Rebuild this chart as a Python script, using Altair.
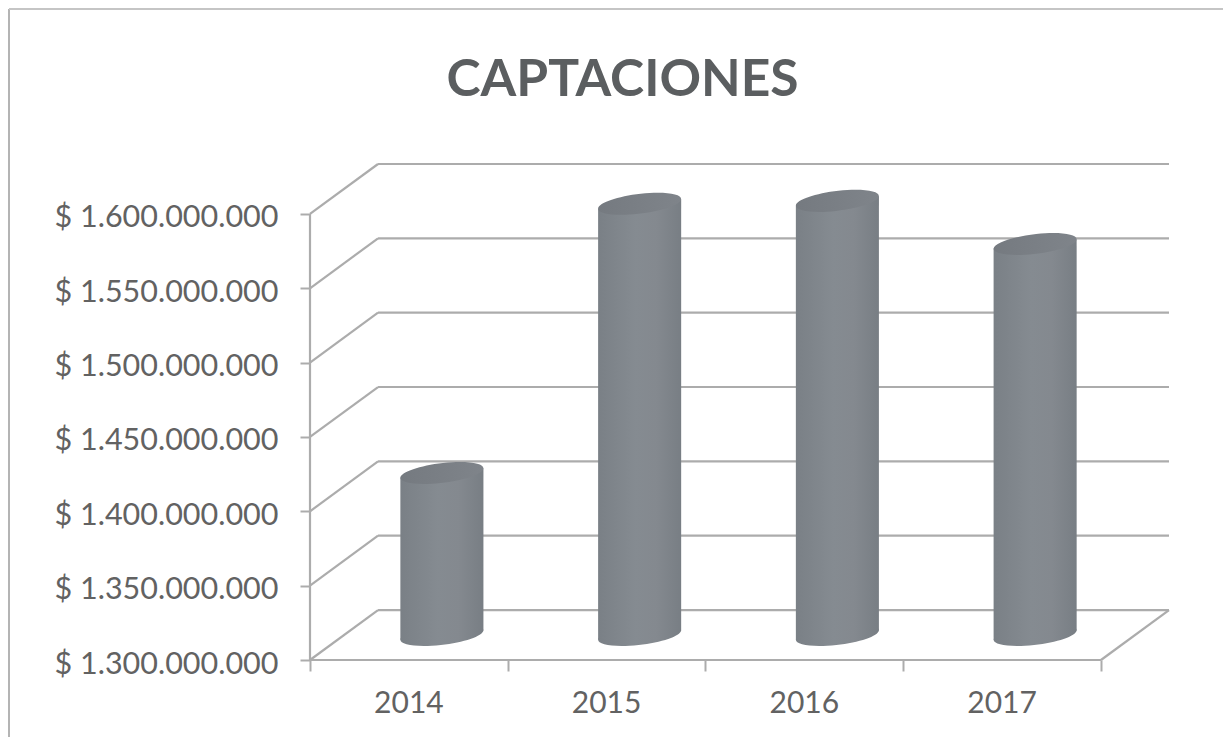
import altair as alt
import pandas as pd

# ---- values
years = ["2014", "2015", "2016", "2017"]
captaciones = [1409000000, 1590000000, 1592000000, 1563000000]
y_ticks = [1300000000, 1350000000, 1400000000, 1450000000, 1500000000, 1550000000, 1600000000]
x_ticks = [0, 1, 2, 3, 4]

# ---- fake-3D projection, expressed in scale units
DEPTH_X = 0.344          # back wall shift along x (categories)
DEPTH_Y = 33600000       # back wall shift along y (value units)
MID_X = 0.167
MID_Y = 16800000
HALF_W = 0.21            # cylinder half width (categories)
TILT = 3100000           # rise of the cylinder ends from centre to side (value units)
Y_MIN, Y_MAX = 1300000000, 1633600000
X_MIN, X_MAX = 0, 4.344

TEXT = "#626262"
GRID = "#acacac"
ELLIPSE = "M-1,0.11 A1,0.235 -7 1 1 1,-0.11 A1,0.235 -7 1 1 -1,0.11 Z"

xs = alt.Scale(domain=[X_MIN, X_MAX], nice=False, zero=False, padding=0)
ys = alt.Scale(domain=[Y_MIN, Y_MAX], nice=False, zero=False, padding=0)

x_axis = alt.Axis(values=x_ticks, labels=False, domain=False, grid=False,
                  tickColor=GRID, tickWidth=2, tickSize=11)
y_axis = alt.Axis(values=y_ticks, domain=False, grid=False, tickColor=GRID, tickWidth=2,
                  tickSize=10, labelFont="Lato", labelFontSize=30.5, labelColor=TEXT,
                  labelPadding=22, labelLimit=400, labelOffset=4,
                  labelExpr="'$ ' + replace(format(datum.value, ','), /,/g, '.')")

def X(f):
    return alt.X(f, type="quantitative", scale=xs, title=None, axis=x_axis)

def Y(f):
    return alt.Y(f, type="quantitative", scale=ys, title=None, axis=y_axis)

body_gradient = alt.Gradient(
    gradient="linear", x1=0, x2=1, y1=0, y2=0,
    stops=[
        alt.GradientStop(offset=0, color="#7a8086"),
        alt.GradientStop(offset=0.45, color="#858b91"),
        alt.GradientStop(offset=0.7, color="#84898f"),
        alt.GradientStop(offset=1, color="#787e84"),
    ],
)
top_gradient = alt.Gradient(
    gradient="linear", x1=0, x2=1, y1=0, y2=0,
    stops=[
        alt.GradientStop(offset=0, color="#757a80"),
        alt.GradientStop(offset=1, color="#7f848a"),
    ],
)

cyl = pd.DataFrame({
    "year": years,
    "value": captaciones,
    "cx": [i + 0.5 + MID_X for i in range(len(years))],
    "label_x": [i + 0.5 for i in range(len(years))],
})
cyl["top"] = cyl["value"] + MID_Y
cyl["base"] = Y_MIN + MID_Y
cyl["floor"] = Y_MIN

# each cylinder body: left and right edge, ends tilted like the ellipses
body_left = cyl.assign(bx=cyl["cx"] - HALF_W, ytop=cyl["top"] - TILT, ybase=cyl["base"] - TILT)
body_right = cyl.assign(bx=cyl["cx"] + HALF_W, ytop=cyl["top"] + TILT, ybase=cyl["base"] + TILT)
body = pd.concat([body_left, body_right], ignore_index=True)

grid = pd.DataFrame({"v": y_ticks})
grid["x0"] = 0.0
grid["x1"] = DEPTH_X
grid["x2"] = 4 + DEPTH_X
grid["vb"] = grid["v"] + DEPTH_Y

rule = dict(color=GRID, strokeWidth=2.2)
back = alt.Chart(grid).mark_rule(**rule).encode(x=X("x1"), x2="x2", y=Y("vb"), y2="vb")
side = alt.Chart(grid).mark_rule(**rule).encode(x=X("x0"), x2="x1", y=Y("v"), y2="vb")
spine = alt.Chart(pd.DataFrame({"x": [0], "a": [y_ticks[0]], "b": [y_ticks[-1]]})).mark_rule(**rule).encode(
    x=X("x"), y=Y("a"), y2="b")
floor_df = pd.DataFrame({"a": [0, 4], "b": [4, 4 + DEPTH_X], "c": [Y_MIN, Y_MIN], "d": [Y_MIN, Y_MIN + DEPTH_Y]})
floor = alt.Chart(floor_df).mark_rule(**rule).encode(x=X("a"), x2="b", y=Y("c"), y2="d")

bodies = alt.Chart(body).mark_area(color=body_gradient, orient="vertical", opacity=1).encode(
    x=X("bx"), y=Y("ytop"), y2="ybase", detail="year:N")
bottoms = alt.Chart(cyl).mark_point(shape=ELLIPSE, size=6889, filled=True, fill=body_gradient, opacity=1).encode(
    x=X("cx"), y=Y("base"))
tops = alt.Chart(cyl).mark_point(shape=ELLIPSE, size=6889, filled=True, fill=top_gradient, opacity=1).encode(
    x=X("cx"), y=Y("top"))

labels = alt.Chart(cyl).mark_text(font="Lato", fontSize=30, color=TEXT, dy=44, baseline="middle").encode(
    x=X("label_x"), y=Y("floor"), text="year:N")

frame_left = alt.Chart(cyl).mark_rule(color="#b4b4b4", strokeWidth=2).encode(
    x=alt.value(-301), y=alt.value(-155), y2=alt.value(580))
frame_top = alt.Chart(cyl).mark_rule(color="#c4c4c4", strokeWidth=1.5).encode(
    x=alt.value(-301), x2=alt.value(913), y=alt.value(-155))

chart = alt.layer(
    frame_left, frame_top, back, side, spine, floor, bodies, bottoms, tops, labels
).properties(
    width=859, height=496,
    padding={"left": 302, "top": 156, "right": 54, "bottom": 77},
    autosize=alt.AutoSizeParams(type="none"),
    background="#ffffff",
    title=alt.TitleParams(
        "CAPTACIONES", anchor="middle", dx=-117, offset=-150,
        font="Lato", fontSize=51.5, fontWeight="bold", color="#5b5e60", baseline="bottom",
    ),
).configure_view(stroke=None)

chart.save("out.html", embed_options={"renderer": "svg", "actions": False})
